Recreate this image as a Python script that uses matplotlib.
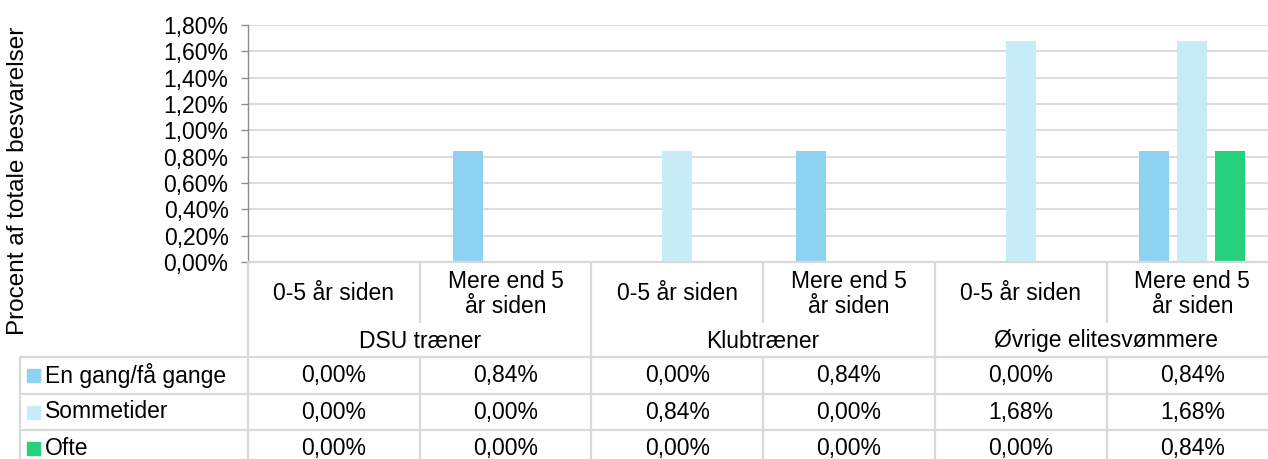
import matplotlib
matplotlib.use("Agg")
import matplotlib.pyplot as plt
from matplotlib.patches import Rectangle

# ---- data -------------------------------------------------------------
groups = ["DSU træner", "Klubtræner", "Øvrige elitesvømmere"]
subcats = ["0-5 år siden", "Mere end 5\når siden"]
series_names = ["En gang/få gange", "Sommetider", "Ofte"]
en_gang = [0.00, 0.84, 0.00, 0.84, 0.00, 0.84]
sommetider = [0.00, 0.00, 0.84, 0.00, 1.68, 1.68]
ofte = [0.00, 0.00, 0.00, 0.00, 0.00, 0.84]
yticks = [0.0, 0.2, 0.4, 0.6, 0.8, 1.0, 1.2, 1.4, 1.6, 1.8]
y_label = "Procent af totale besvarelser"

series = [en_gang, sommetider, ofte]
colors = ["#8DD3F1", "#C8ECF7", "#27D07D"]
grid_c = "#D9D9D9"

W, H = 1268, 459
plt.rcParams["font.family"] = ["Liberation Sans", "DejaVu Sans"]
FS = 16.5

fig = plt.figure(figsize=(W / 100, H / 100), dpi=100)

# plot area (pixel layout)
x_left, col_w = 248, 171.7
y_top, y_zero = 25, 262
ncols = len(en_gang)
ax = fig.add_axes([x_left / W, 1 - y_zero / H, ncols * col_w / W, (y_zero - y_top) / H])

def pct(v):
    return f"{v:.2f}%".replace(".", ",")

offs = [-0.221, 0.0, 0.221]
bw = 0.175
for vals, off, c in zip(series, offs, colors):
    ax.bar([i + off for i in range(ncols)], vals, width=bw, color=c, zorder=3)

ax.set_xlim(-0.5, ncols - 0.5)
ax.set_ylim(0, 1.8)
ax.set_yticks(yticks)
ax.set_yticklabels([pct(v) for v in yticks], fontsize=FS)
ax.set_xticks([])
ax.yaxis.grid(True, color=grid_c, lw=1.3, zorder=0)
for s in ["top", "right", "bottom"]:
    ax.spines[s].set_visible(False)
ax.spines["left"].set_color("#8C8C8C")
ax.spines["left"].set_linewidth(1.0)
ax.tick_params(axis="y", length=5, width=1.0, color="#8C8C8C", pad=9)

# overlay in pixel coordinates for the data table
ov = fig.add_axes([0, 0, 1, 1], zorder=5)
ov.set_xlim(0, W)
ov.set_ylim(H, 0)
ov.axis("off")
ov.patch.set_alpha(0)

lw_t = 1.6
x_tab_left = 20
x_right = x_left + ncols * col_w
bounds = [x_left + i * col_w for i in range(ncols + 1)]
centers = [x_left + (i + 0.5) * col_w for i in range(ncols)]

r_sub_bot = 323
r_grp_bot = 357
row_lines = [357, 394, 430, 467]

def hline(y, x0, x1):
    ov.plot([x0, x1], [y, y], color=grid_c, lw=lw_t, solid_capstyle="butt")

def vline(x, y0, y1):
    ov.plot([x, x], [y0, y1], color=grid_c, lw=lw_t, solid_capstyle="butt")

hline(y_zero, x_left, x_right)
for y in row_lines:
    hline(y, x_tab_left, x_right)
vline(x_tab_left, r_grp_bot, H + 5)
for i, x in enumerate(bounds):
    if i % 2 == 0:
        vline(x, y_zero, H + 5)
    else:
        vline(x, y_zero, r_sub_bot)
        vline(x, r_grp_bot, H + 5)

# sub-category and group labels
for i, cx in enumerate(centers):
    ov.text(cx, 294, subcats[i % 2], ha="center", va="center", fontsize=FS,
            linespacing=1.1)
for g, name in enumerate(groups):
    cx = (bounds[2 * g] + bounds[2 * g + 2]) / 2
    ov.text(cx, 341, name, ha="center", va="center", fontsize=FS)

# data rows with legend keys
for r, (name, vals, c) in enumerate(zip(series_names, series, colors)):
    yc = (row_lines[r] + row_lines[r + 1]) / 2
    ov.add_patch(Rectangle((27, yc - 6.5), 13, 13, color=c))
    ov.text(45, yc, name, ha="left", va="center", fontsize=FS)
    for cx, v in zip(centers, vals):
        ov.text(cx, yc, pct(v), ha="center", va="center", fontsize=FS)

fig.text(18 / W, 1 - 181 / H, y_label, rotation=90, ha="center", va="center",
         fontsize=17.5)

fig.savefig("out.png", dpi=100)
